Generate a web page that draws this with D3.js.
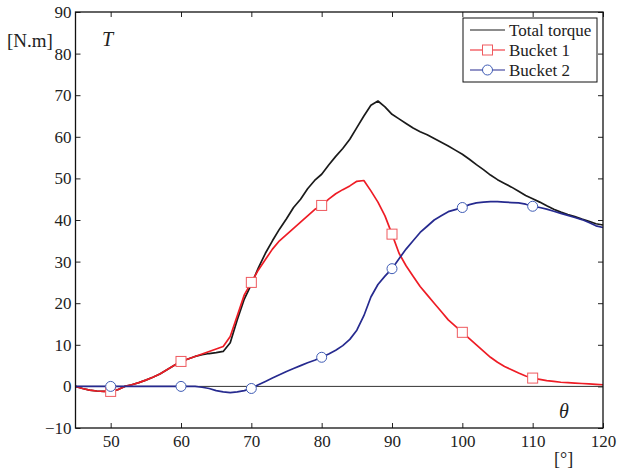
<!DOCTYPE html>
<html>
<head>
<meta charset="utf-8">
<script src="https://cdn.jsdelivr.net/npm/d3@7"></script>
<style>
    body { margin: 0; background: #fff; }
    svg { display: block; }
    text { font-family: "Liberation Serif", "Times New Roman", serif; fill: #222; }
</style>
</head>
<body>
<div id="chart"></div>
<script>
// angle in degrees, one sample per degree from 45 to 120
const theta = d3.range(45, 121);

const totalTorque = [
    0, -0.5, -0.9, -1.1, -1.2, -1.2, -0.8, 0, 0.4, 0.9,
    1.5, 2.2, 3, 4, 5, 6, 6.6, 7.2, 7.6, 7.9,
    8.1, 8.4, 10.5, 16, 21, 24.5, 28.5, 32, 35, 37.8,
    40.3, 43, 45, 47.5, 49.5, 51, 53.2, 55.3, 57.2, 59.4,
    62.2, 65, 67.6, 68.6, 67.2, 65.4, 64.3, 63.2, 62.1, 61.2,
    60.5, 59.6, 58.7, 57.8, 56.8, 55.8, 54.6, 53.3, 52.1, 50.8,
    49.7, 48.8, 47.9, 46.9, 45.9, 45.1, 44.3, 43.4, 42.6, 41.9,
    41.3, 40.8, 40.2, 39.7, 39.1, 38.8
];

const bucket1 = [
    0, -0.5, -0.9, -1.1, -1.2, -1.2, -0.8, 0, 0.4, 0.9,
    1.5, 2.2, 3, 4, 5, 6, 6.6, 7.2, 7.8, 8.4,
    9, 9.6, 12, 17, 22, 25, 28, 30.5, 33, 35,
    36.5, 38, 39.5, 41, 42.5, 43.5, 45, 46.3, 47.3, 48.2,
    49.3, 49.5, 47, 44.3, 41, 36.6, 32, 29, 26.5, 24,
    22, 20, 18, 16, 14.5, 13, 11.5, 10, 8.5, 7,
    5.8, 4.8, 4, 3.2, 2.5, 2, 1.7, 1.4, 1.2, 1.0,
    0.9, 0.8, 0.7, 0.6, 0.5, 0.4
];

const bucket2 = [
    0, 0, 0, 0, 0, 0, 0, 0, 0, 0,
    0, 0, 0, 0, 0, 0, 0, 0, -0.2, -0.5,
    -1, -1.3, -1.5, -1.3, -1, -0.5, 0.4, 1.2, 2, 2.8,
    3.6, 4.3, 5, 5.7, 6.3, 7, 7.8, 8.7, 9.8, 11.3,
    13.5, 17, 21.5, 24.5, 26.5, 28.3, 30.7, 33, 35, 37,
    38.5, 40, 41, 42, 42.5, 43, 43.7, 44.1, 44.3, 44.4,
    44.4, 44.3, 44.2, 44.1, 43.8, 43.3, 43, 42.6, 42.1, 41.6,
    41.1, 40.6, 40.1, 39.4, 38.6, 38.2
];

const markerTheta = [50, 60, 70, 80, 90, 100, 110];
const xTicks = [50, 60, 70, 80, 90, 100, 110, 120];
const yTicks = [-10, 0, 10, 20, 30, 40, 50, 60, 70, 80, 90];
const legendLabels = ['Total torque', 'Bucket 1', 'Bucket 2'];

const width = 617;
const height = 472;
const margins = { top: 12, right: 14, bottom: 44, left: 75.5 };

const BLACK = '#1a1a1a';
const RED = '#ee1c25';
const BLUE = '#262a8f';
const RED_MARK = '#ef5a5f';
const BLUE_MARK = '#3f5cb5';

const svg = d3.select('#chart')
    .append('svg')
    .attr('width', width)
    .attr('height', height);

const x = d3.scaleLinear()
    .domain([45, 120])
    .range([margins.left, width - margins.right]);

const y = d3.scaleLinear()
    .domain([-10, 90])
    .range([height - margins.bottom, margins.top]);

// axes, MATLAB style: ticks point inward on all four sides
svg.append('g')
    .attr('transform', `translate(0,${y(-10)})`)
    .call(d3.axisBottom(x).tickValues(xTicks).tickSizeInner(-5).tickSizeOuter(0).tickPadding(7))
    .call(g => g.select('.domain').remove());

svg.append('g')
    .attr('transform', `translate(0,${y(90)})`)
    .call(d3.axisTop(x).tickValues(xTicks).tickSizeInner(-5).tickSizeOuter(0).tickFormat(''))
    .call(g => g.select('.domain').remove());

svg.append('g')
    .attr('transform', `translate(${x(45)},0)`)
    .call(d3.axisLeft(y).tickValues(yTicks).tickSizeInner(-5).tickSizeOuter(0).tickPadding(4))
    .call(g => g.select('.domain').remove());

svg.append('g')
    .attr('transform', `translate(${x(120)},0)`)
    .call(d3.axisRight(y).tickValues(yTicks).tickSizeInner(-5).tickSizeOuter(0).tickFormat(''))
    .call(g => g.select('.domain').remove());

svg.selectAll('.tick text')
    .style('font-size', '17px')
    .style('font-family', '"Liberation Serif", serif')
    .attr('fill', '#222');
svg.selectAll('.tick line').attr('stroke', '#222');

// zero reference line
svg.append('line')
    .attr('x1', x(45))
    .attr('x2', x(120))
    .attr('y1', y(0))
    .attr('y2', y(0))
    .attr('stroke', '#333')
    .attr('stroke-width', 1);

const line = d3.line()
    .x((d, i) => x(theta[i]))
    .y(d => y(d));

const series = [
    { values: totalTorque, color: BLACK },
    { values: bucket1, color: RED },
    { values: bucket2, color: BLUE }
];

svg.selectAll('path.curve')
    .data(series)
    .join('path')
    .attr('class', 'curve')
    .attr('fill', 'none')
    .attr('stroke', d => d.color)
    .attr('stroke-width', 1.7)
    .attr('stroke-linejoin', 'round')
    .attr('d', d => line(d.values));

// markers every 10 degrees
const valueAt = (arr, t) => arr[theta.indexOf(t)];

svg.selectAll('rect.b1')
    .data(markerTheta)
    .join('rect')
    .attr('class', 'b1')
    .attr('x', d => x(d) - 5)
    .attr('y', d => y(valueAt(bucket1, d)) - 5)
    .attr('width', 10)
    .attr('height', 10)
    .attr('fill', '#fff')
    .attr('stroke', RED_MARK)
    .attr('stroke-width', 1);

svg.selectAll('circle.b2')
    .data(markerTheta)
    .join('circle')
    .attr('class', 'b2')
    .attr('cx', d => x(d))
    .attr('cy', d => y(valueAt(bucket2, d)))
    .attr('r', 5)
    .attr('fill', '#fff')
    .attr('stroke', BLUE_MARK)
    .attr('stroke-width', 1);

// plot frame
svg.append('rect')
    .attr('x', x(45))
    .attr('y', y(90))
    .attr('width', x(120) - x(45))
    .attr('height', y(-10) - y(90))
    .attr('fill', 'none')
    .attr('stroke', '#111')
    .attr('stroke-width', 1.3);

// axis labels
svg.append('text')
    .attr('x', 7)
    .attr('y', 47)
    .style('font-size', '19px')
    .text('[N.m]');

svg.append('text')
    .attr('x', 102)
    .attr('y', 46)
    .style('font-size', '20px')
    .style('font-style', 'italic')
    .text('T');

svg.append('text')
    .attr('x', 559)
    .attr('y', 418)
    .style('font-size', '20px')
    .style('font-style', 'italic')
    .text('θ');

svg.append('text')
    .attr('x', 554)
    .attr('y', 465)
    .style('font-size', '18px')
    .text('[°]');

// legend
const legend = svg.append('g').attr('transform', 'translate(463,18)');

legend.append('rect')
    .attr('width', 134)
    .attr('height', 64)
    .attr('fill', '#fff')
    .attr('stroke', '#111')
    .attr('stroke-width', 1);

const legendColors = [BLACK, RED, BLUE];
const legendRows = legend.selectAll('g.row')
    .data(legendLabels)
    .join('g')
    .attr('class', 'row')
    .attr('transform', (d, i) => `translate(0,${12 + i * 20})`);

legendRows.append('line')
    .attr('x1', 7)
    .attr('x2', 42)
    .attr('stroke', (d, i) => legendColors[i])
    .attr('stroke-width', 1.2);

legendRows.filter((d, i) => i === 1)
    .append('rect')
    .attr('x', 19.5)
    .attr('y', -5)
    .attr('width', 10)
    .attr('height', 10)
    .attr('fill', '#fff')
    .attr('stroke', RED_MARK);

legendRows.filter((d, i) => i === 2)
    .append('circle')
    .attr('cx', 24.5)
    .attr('r', 5)
    .attr('fill', '#fff')
    .attr('stroke', BLUE_MARK);

legendRows.append('text')
    .attr('x', 46)
    .attr('dy', '0.33em')
    .style('font-size', '17px')
    .text(d => d);
</script>
</body>
</html>
